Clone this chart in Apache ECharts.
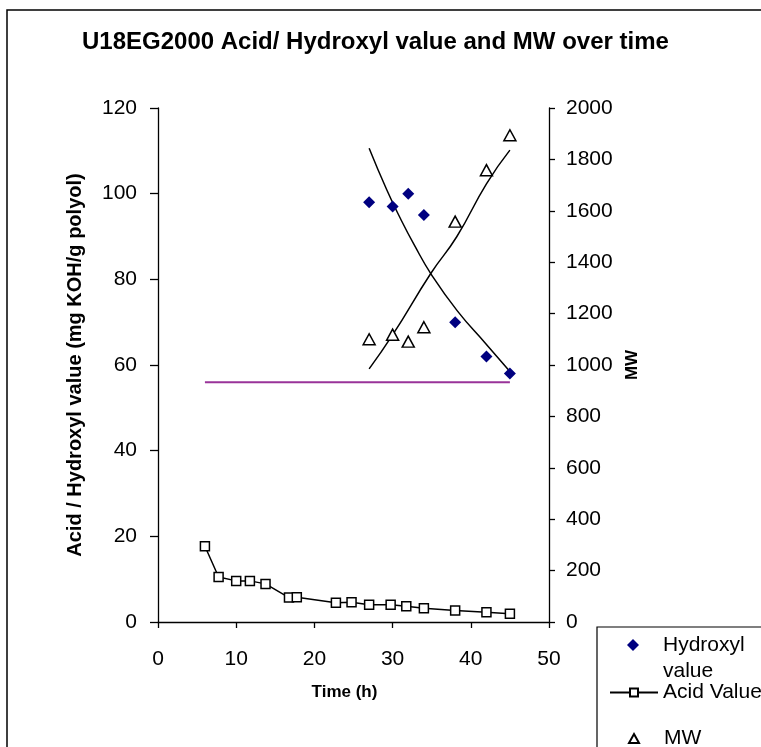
<!DOCTYPE html>
<html>
<head>
<meta charset="utf-8">
<script src="https://cdn.jsdelivr.net/npm/echarts@6/dist/echarts.min.js"></script>
<style>
html,body{margin:0;padding:0;background:#fff;}
#chart{width:761px;height:747px;}
</style>
</head>
<body>
<div id="chart"></div>
<script>
// ---- Data ----
const hydroxylTime = [27, 30, 32, 34, 38, 42, 45];
const hydroxylValue = [98, 97, 100, 95, 70, 62, 58];

const acidTime = [6, 7.75, 10, 11.75, 13.75, 16.75, 17.75, 22.75, 24.75, 27, 29.75, 31.75, 34, 38, 42, 45];
const acidValue = [17.7, 10.5, 9.6, 9.6, 8.9, 5.7, 5.8, 4.5, 4.6, 4.0, 4.0, 3.7, 3.2, 2.7, 2.3, 1.9];

const mwTime = [27, 30, 32, 34, 38, 42, 45];
const mwValue = [1100, 1118, 1091, 1147, 1558, 1758, 1894];

// trendlines
const hydroxylTrendTime = [27, 29.25, 31, 32.75, 35, 38.25, 42, 45];
const hydroxylTrendValue = [110.6, 100.9, 94.2, 88.1, 81.0, 72.7, 64.8, 58.5];
const mwTrendTime = [27, 30, 34.9, 38.2, 42, 45];
const mwTrendValue = [985, 1117, 1357, 1499, 1705, 1836];

// reference line
const refLineTime = [6, 45];
const refLineValue = [56, 56];

const xTicks = [0, 10, 20, 30, 40, 50];
const leftTicks = [0, 20, 40, 60, 80, 100, 120];
const rightTicks = [0, 200, 400, 600, 800, 1000, 1200, 1400, 1600, 1800, 2000];

const zip = (a, b) => a.map((v, i) => [v, b[i]]);

const FONT = '"Liberation Sans", Arial, sans-serif';
const chart = echarts.init(document.getElementById('chart'), null, {renderer: 'canvas'});

const legendText = {fontFamily: FONT, fontSize: 21, color: '#000', lineHeight: 20};

chart.setOption({
  animation: false,
  backgroundColor: '#fff',
  title: {
    text: 'U18EG2000 Acid/ Hydroxyl value and MW over time',
    left: 77, top: 25,
    textStyle: {fontFamily: FONT, fontSize: 24, fontWeight: 'bold', color: '#000'}
  },
  graphic: [
    {type: 'rect', shape: {x: 7, y: 10, width: 900, height: 900}, style: {fill: null, stroke: '#000', lineWidth: 1.5}, silent: true, z: -1},
    {type: 'rect', shape: {x: 597, y: 627, width: 300, height: 300}, style: {fill: null, stroke: '#000', lineWidth: 1.2}, silent: true, z: -1}
  ],
  legend: [
    {
      orient: 'vertical', left: 622, top: 601, itemWidth: 12, itemHeight: 12,
      selectedMode: false, data: ['Hydroxyl value'],
      formatter: () => '\nHydroxyl\nvalue',
      textStyle: Object.assign({}, legendText, {lineHeight: 26, padding: [0, 0, 0, 19]})
    },
    {
      orient: 'vertical', left: 604, top: 677, itemWidth: 48, itemHeight: 10,
      selectedMode: false, data: ['Acid Value'], textStyle: legendText
    },
    {
      orient: 'vertical', left: 623, top: 723, itemWidth: 10, itemHeight: 9,
      selectedMode: false, data: ['MW'],
      textStyle: Object.assign({}, legendText, {padding: [0, 0, 0, 20]})
    }
  ],
  grid: {left: 158, top: 108, right: 212, bottom: 125, containLabel: false},
  xAxis: {
    type: 'value', min: 0, max: 50, interval: 10,
    name: 'Time (h)', nameLocation: 'middle', nameGap: 62,
    nameTextStyle: {fontFamily: FONT, fontSize: 17, fontWeight: 'bold', color: '#000', padding: [0, 18, 0, 0]},
    axisLine: {show: true, lineStyle: {color: '#000', width: 1.3}},
    axisTick: {show: true, inside: false, length: 6, lineStyle: {color: '#000', width: 1.3}},
    axisLabel: {fontFamily: FONT, fontSize: 21, color: '#000', margin: 27,
      formatter: v => String(v)},
    splitLine: {show: false}
  },
  yAxis: [
    {
      type: 'value', min: 0, max: 120, interval: 20, position: 'left',
      name: 'Acid / Hydroxyl value (mg KOH/g polyol)', nameLocation: 'middle', nameGap: 73, nameRotate: 90,
      nameTextStyle: {fontFamily: FONT, fontSize: 20, fontWeight: 'bold', color: '#000'},
      axisLine: {show: true, lineStyle: {color: '#000', width: 1.3}},
      axisTick: {show: true, inside: false, length: 8, lineStyle: {color: '#000', width: 1.3}},
      axisLabel: {fontFamily: FONT, fontSize: 21, color: '#000', margin: 21,
        formatter: v => String(v)},
      splitLine: {show: false}
    },
    {
      type: 'value', min: 0, max: 2000, interval: 200, position: 'right',
      name: 'MW', nameLocation: 'middle', nameGap: 75, nameRotate: 90,
      nameTextStyle: {fontFamily: FONT, fontSize: 17, fontWeight: 'bold', color: '#000'},
      axisLine: {show: true, lineStyle: {color: '#000', width: 1.3}},
      axisTick: {show: true, inside: false, length: 6, lineStyle: {color: '#000', width: 1.3}},
      axisLabel: {fontFamily: FONT, fontSize: 21, color: '#000', margin: 17,
        formatter: v => String(v)},
      splitLine: {show: false}
    }
  ],
  series: [
    {
      name: 'ref', type: 'line', yAxisIndex: 0, data: zip(refLineTime, refLineValue),
      symbol: 'none', lineStyle: {color: '#993399', width: 2}, z: 1, silent: true
    },
    {
      name: 'Hydroxyl trend', type: 'line', yAxisIndex: 0, data: zip(hydroxylTrendTime, hydroxylTrendValue),
      symbol: 'none', smooth: true, lineStyle: {color: '#000', width: 1.5}, z: 2, silent: true
    },
    {
      name: 'MW trend', type: 'line', yAxisIndex: 1, data: zip(mwTrendTime, mwTrendValue),
      symbol: 'none', smooth: true, lineStyle: {color: '#000', width: 1.5}, z: 2, silent: true
    },
    {
      name: 'Hydroxyl value', type: 'scatter', yAxisIndex: 0, data: zip(hydroxylTime, hydroxylValue),
      symbol: 'diamond', symbolSize: 12, itemStyle: {color: '#000080', opacity: 1}, z: 5
    },
    {
      name: 'Acid Value', type: 'line', yAxisIndex: 0, data: zip(acidTime, acidValue),
      symbol: 'rect', symbolSize: 9, showAllSymbol: true,
      lineStyle: {color: '#000', width: 1.5},
      itemStyle: {color: '#fff', borderColor: '#000', borderWidth: 1.5}, z: 4
    },
    {
      name: 'MW', type: 'scatter', yAxisIndex: 1, data: zip(mwTime, mwValue),
      symbol: 'triangle', symbolSize: [12, 11],
      itemStyle: {color: '#fff', borderColor: '#000', borderWidth: 1.5, opacity: 1}, z: 5
    }
  ]
});
</script>
</body>
</html>
